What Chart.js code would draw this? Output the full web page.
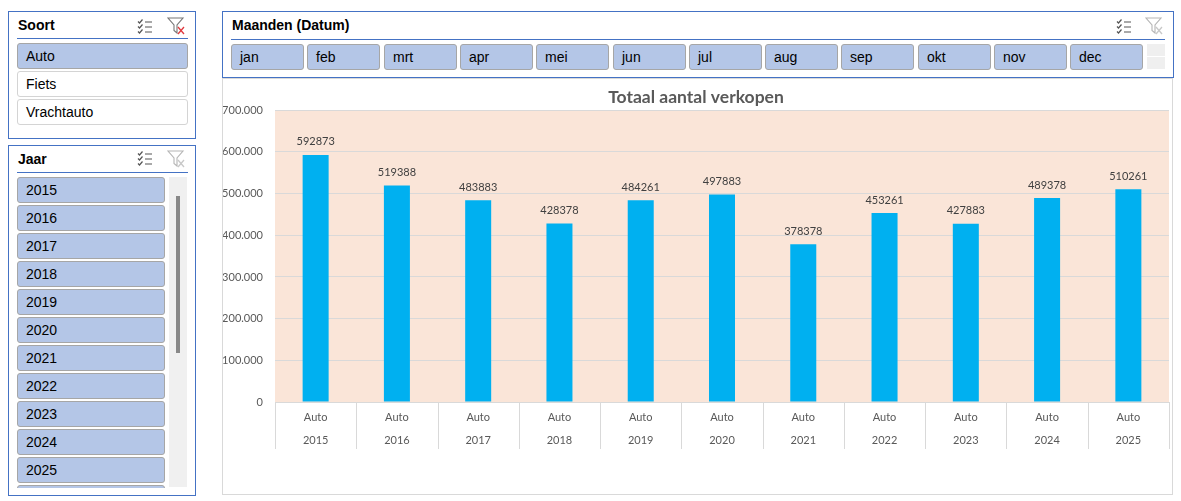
<!DOCTYPE html>
<html>
<head>
<meta charset="utf-8">
<script src="https://cdn.jsdelivr.net/npm/chart.js@4.4.1/dist/chart.umd.min.js"></script>
<style>
  html,body{margin:0;padding:0;background:#fff;width:1181px;height:501px;overflow:hidden;font-family:"Liberation Sans",Arial,sans-serif;}
  .slicer{position:absolute;box-sizing:border-box;border:1px solid #4472C4;background:#fff;overflow:hidden;}
  .stitle{position:absolute;font-weight:bold;font-size:14px;color:#000;line-height:16px;}
  .sline{position:absolute;height:1px;background:#4472C4;}
  .btn{position:absolute;box-sizing:border-box;height:26px;border:1px solid #a6a6a6;border-radius:3px;background:#B4C6E7;font-size:14px;line-height:24px;padding-left:8px;color:#000;}
  .btn.off{background:#fff;border-color:#d4d4d4;}
  .icon{position:absolute;}
  #chartbox{position:absolute;left:222px;top:78px;width:951px;height:417px;box-sizing:border-box;border:1px solid #d9d9d9;background:#fff;}
  #c{position:absolute;left:0;top:0;}
</style>
</head>
<body>
<!-- Soort slicer -->
<div class="slicer" style="left:8px;top:11px;width:188px;height:128px;">
  <div class="stitle" style="left:9px;top:5px;">Soort</div>
  <svg class="icon" style="left:128px;top:7px" width="16" height="15" viewBox="0 0 16 15"><g stroke="#555" stroke-width="1.2" fill="none"><path d="M1 2.5l1.5 1.5l3-3.5M1 7.5l1.5 1.5l3-3.5M1 12.5l1.5 1.5l3-3.5"/><path d="M8 3H15M8 8H15M8 13H15"/></g></svg>
  <svg class="icon" style="left:158px;top:5px" width="19" height="18" viewBox="0 0 19 18"><path d="M1 1H16L10 8V16L7 13.5V8Z" stroke="#777" stroke-width="1.1" fill="none"/><path d="M11 10L17 17M17 10L11 17" stroke="#e0393e" stroke-width="1.3"/></svg>
  <div class="sline" style="left:8px;top:26px;width:171px;"></div>
  <div class="btn" style="left:8px;top:31px;width:171px;">Auto</div>
  <div class="btn off" style="left:8px;top:59px;width:171px;">Fiets</div>
  <div class="btn off" style="left:8px;top:87px;width:171px;">Vrachtauto</div>
</div>

<!-- Jaar slicer -->
<div class="slicer" style="left:8px;top:145px;width:188px;height:351px;">
  <div class="stitle" style="left:9px;top:5px;">Jaar</div>
  <svg class="icon" style="left:128px;top:5px" width="16" height="15" viewBox="0 0 16 15"><g stroke="#555" stroke-width="1.2" fill="none"><path d="M1 2.5l1.5 1.5l3-3.5M1 7.5l1.5 1.5l3-3.5M1 12.5l1.5 1.5l3-3.5"/><path d="M8 3H15M8 8H15M8 13H15"/></g></svg>
  <svg class="icon" style="left:158px;top:4px" width="19" height="18" viewBox="0 0 19 18"><path d="M1 1H16L10 8V16L7 13.5V8Z" stroke="#b5b5b5" stroke-width="1.1" fill="none"/><path d="M11 10L17 17M17 10L11 17" stroke="#c8c8c8" stroke-width="1.3"/></svg>
  <div class="sline" style="left:8px;top:26px;width:171px;"></div>
  <div id="yearBtns" style="position:absolute;left:0;top:0;width:160px;height:342px;overflow:hidden;"></div>
  <div style="position:absolute;left:160px;top:31px;width:18px;height:310px;background:#f0f0f0;"></div>
  <div style="position:absolute;left:167px;top:50px;width:4px;height:157px;background:#888;"></div>
</div>

<!-- Maanden slicer -->
<div class="slicer" style="left:222px;top:11px;width:952px;height:67px;">
  <div class="stitle" style="left:9px;top:5px;">Maanden (Datum)</div>
  <svg class="icon" style="left:893px;top:7px" width="16" height="15" viewBox="0 0 16 15"><g stroke="#555" stroke-width="1.2" fill="none"><path d="M1 2.5l1.5 1.5l3-3.5M1 7.5l1.5 1.5l3-3.5M1 12.5l1.5 1.5l3-3.5"/><path d="M8 3H15M8 8H15M8 13H15"/></g></svg>
  <svg class="icon" style="left:922px;top:5px" width="19" height="18" viewBox="0 0 19 18"><path d="M1 1H16L10 8V16L7 13.5V8Z" stroke="#b5b5b5" stroke-width="1.1" fill="none"/><path d="M11 10L17 17M17 10L11 17" stroke="#c8c8c8" stroke-width="1.3"/></svg>
  <div class="sline" style="left:8px;top:27px;width:934px;"></div>
  <div id="monthBtns"></div>
  <div style="position:absolute;left:924px;top:32px;width:18px;height:12px;background:#efefef;"></div>
  <div style="position:absolute;left:924px;top:45px;width:18px;height:12px;background:#efefef;"></div>
</div>

<div id="chartbox"><canvas id="c" width="949" height="415"></canvas></div>

<script>
// ---- data ----
const soortItems = ["Auto", "Fiets", "Vrachtauto"];
const jaarItems = ["2015","2016","2017","2018","2019","2020","2021","2022","2023","2024","2025",""];
const maandItems = ["jan","feb","mrt","apr","mei","jun","jul","aug","sep","okt","nov","dec"];
const categoryLabel = "Auto";
const years = ["2015","2016","2017","2018","2019","2020","2021","2022","2023","2024","2025"];
const verkopen = [592873, 519388, 483883, 428378, 484261, 497883, 378378, 453261, 427883, 489378, 510261];
const chartTitle = "Totaal aantal verkopen";

// ---- slicer buttons ----
const yb = document.getElementById('yearBtns');
jaarItems.forEach((t,i)=>{
  const d=document.createElement('div'); d.className='btn';
  d.style.left='8px'; d.style.top=(31+i*28)+'px'; d.style.width='148px';
  d.textContent=t; yb.appendChild(d);
});
const mb = document.getElementById('monthBtns');
maandItems.forEach((t,i)=>{
  const d=document.createElement('div'); d.className='btn';
  d.style.left=(8+Math.round(i*76.3))+'px'; d.style.top='32px'; d.style.width='73px';
  d.textContent=t; mb.appendChild(d);
});

// ---- chart ----
const fmt = v => String(v).replace(/\B(?=(\d{3})+(?!\d))/g, '.');
const CHART_FONT = "Lato";

const plotBg = {
  id:'plotBg',
  beforeDraw(chart){
    const {ctx, chartArea:a} = chart;
    ctx.save(); ctx.fillStyle='#FAE5D8';
    ctx.fillRect(a.left, a.top, a.right-a.left, a.bottom-a.top);
    ctx.restore();
  }
};
const sepLines = {
  id:'sepLines',
  afterDraw(chart){
    const {ctx, chartArea:a, scales:{x}} = chart;
    const n = chart.data.labels.length;
    ctx.save(); ctx.strokeStyle='#d9d9d9'; ctx.lineWidth=1;
    for(let i=0;i<=n;i++){
      let px;
      if(i===0) px=a.left; else if(i===n) px=a.right;
      else px=(x.getPixelForValue(i-1)+x.getPixelForValue(i))/2;
      px=Math.round(px)+0.5;
      ctx.beginPath(); ctx.moveTo(px,a.bottom); ctx.lineTo(px,x.bottom); ctx.stroke();
    }
    ctx.restore();
  }
};
const valueLabels = {
  id:'valueLabels',
  afterDatasetsDraw(chart){
    const {ctx} = chart;
    const meta = chart.getDatasetMeta(0);
    ctx.save(); ctx.fillStyle='#404040'; ctx.font='11px '+CHART_FONT;
    ctx.textAlign='center'; ctx.textBaseline='middle';
    meta.data.forEach((el,i)=>{
      ctx.fillText(String(chart.data.datasets[0].data[i]), el.x, el.y-13);
    });
    ctx.restore();
  }
};

new Chart(document.getElementById('c'), {
  type:'bar',
  data:{
    labels: years.map(y=>[categoryLabel, y]),
    datasets:[{data: verkopen, backgroundColor:'#00B0F0', barPercentage:0.32, categoryPercentage:1}]
  },
  options:{
    responsive:false, animation:false, devicePixelRatio:1,
    layout:{padding:{left:0,right:3,top:0,bottom:45}},
    plugins:{
      legend:{display:false}, tooltip:{enabled:false},
      title:{display:true, text:chartTitle, color:'#595959',
        font:{family:CHART_FONT, size:17.5, weight:'bold', lineHeight:1.1}, padding:{top:9,bottom:3}}
    },
    scales:{
      x:{
        grid:{display:false, drawTicks:false}, border:{display:false},
        ticks:{color:'#595959', font:{family:CHART_FONT, size:11, lineHeight:23/11}, padding:3.5, maxRotation:0, autoSkip:false},
        afterFit(s){ s.height=47; }
      },
      y:{
        min:0, max:700000,
        grid:{color:'#d9d9d9', drawTicks:false}, border:{display:false},
        ticks:{stepSize:100000, color:'#595959', font:{family:CHART_FONT, size:11}, padding:12, callback:v=>fmt(v)},
        afterFit(s){ s.width=52; }
      }
    }
  },
  plugins:[plotBg, sepLines, valueLabels]
});
</script>
</body>
</html>
